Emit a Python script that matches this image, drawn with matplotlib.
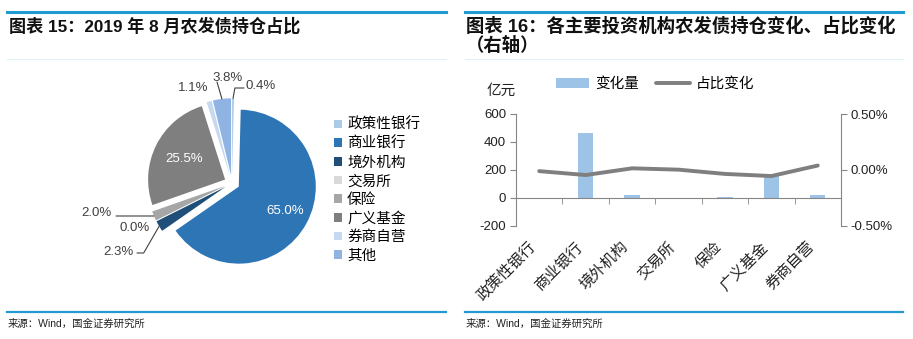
import numpy as np
import matplotlib
matplotlib.use("Agg")
import matplotlib.pyplot as plt
from matplotlib.ticker import FuncFormatter, FixedLocator

plt.rcParams['font.family'] = ['Liberation Sans', 'Noto Sans CJK SC', 'DejaVu Sans']
plt.rcParams['axes.unicode_minus'] = False

# 左图：2019年8月农发债持仓占比
pie_labels = ['政策性银行', '商业银行', '境外机构', '交易所', '保险', '广义基金', '券商自营', '其他']
pie_values = [0.4, 65.0, 2.3, 0.0, 2.0, 25.5, 1.1, 3.8]
pie_colors = ['#a9cbe8', '#2e75b6', '#1f4e79', '#d9d9d9', '#a6a6a6', '#7f7f7f', '#c6d9f0', '#8fb4e3']

# 右图：各主要投资机构农发债持仓变化
categories = ['政策性银行', '商业银行', '境外机构', '交易所', '保险', '广义基金', '券商自营']
change_amt = [-6, 465, 24, 0, 4, 158, 24]               # 亿元
share_change = [-0.01, -0.045, 0.015, 0.003, -0.035, -0.054, 0.04]  # %

W, H = 913, 339
fig = plt.figure(figsize=(W / 100, H / 100), dpi=100)

def fx(px):
    return px / W

def fy(py):
    return 1 - py / H

blue = '#1f9bd1'
# header / footer rules
for x0, x1 in [(7, 446), (465, 903)]:
    fig.add_artist(plt.Line2D([fx(x0), fx(x1)], [fy(12), fy(12)], color=blue, lw=2.2))
    fig.add_artist(plt.Line2D([fx(x0), fx(x1)], [fy(59), fy(59)], color='#e3f1f7', lw=0.8))
    fig.add_artist(plt.Line2D([fx(x0), fx(x1)], [fy(312), fy(312)], color=blue, lw=1.6))
    fig.text(fx(x0 + 1), fy(324), '来源：Wind，国金证券研究所', fontsize=7.5, va='center', color='#222222')

fig.text(fx(9), fy(26), '图表 15：2019 年 8 月农发债持仓占比', fontsize=12.3, fontweight='bold',
         va='center', color='#111111')
fig.text(fx(466), fy(26), '图表 16：各主要投资机构农发债持仓变化、占比变化', fontsize=13.2,
         fontweight='bold', va='center', color='#111111')
fig.text(fx(466), fy(46), '（右轴）', fontsize=13.2, fontweight='bold', va='center', color='#111111')

# ---------------- pie ----------------
cx, cy, r = 232, 183, 77
half = 1.5 * r
axp = fig.add_axes([fx(cx - half), fy(cy + half), 2 * half / W, 2 * half / H])
wedges, _ = axp.pie(pie_values, colors=pie_colors, startangle=90, counterclock=False,
                    explode=[0.1] * len(pie_values), radius=1,
                    wedgeprops=dict(linewidth=0))
axp.set_xlim(-1.5, 1.5)
axp.set_ylim(-1.5, 1.5)
axp.set_aspect('auto')
axp.axis('off')

def to_data(px, py):
    return ((px - cx) / r, (cy - py) / r)

def mid(i, rad):
    w = wedges[i]
    a = np.deg2rad((w.theta1 + w.theta2) / 2)
    return (w.center[0] + rad * np.cos(a), w.center[1] + rad * np.sin(a))

txt = '#404040'
# inside labels
for i, rr in [(1, 0.68), (5, 0.6)]:
    x, y = mid(i, rr)
    axp.text(x, y, f'{pie_values[i]:.1f}%', color='white', fontsize=9.5, ha='center', va='center')

lead = dict(arrowstyle='-', color='#404040', lw=0.8, shrinkA=0, shrinkB=0)
outside = {
    0: ((245, 86), 'left'),
    7: ((228, 78), 'center'),
    6: ((193, 88), 'center'),
    4: ((112, 213), 'right'),
    3: ((150, 228), 'right'),
    2: ((134, 252), 'right'),
}
for i, ((px, py), ha) in outside.items():
    axp.text(*to_data(px, py), f'{pie_values[i]:.1f}%', color=txt, fontsize=9.5, ha=ha, va='center')
axp.annotate('', xy=mid(0, 1.0), xytext=to_data(244, 88), arrowprops=dict(lead, connectionstyle='angle,angleA=0,angleB=80,rad=0'))
axp.annotate('', xy=mid(7, 1.0), xytext=to_data(217, 82), arrowprops=lead)
axp.annotate('', xy=mid(4, 1.0), xytext=to_data(116, 216), arrowprops=lead)
axp.annotate('', xy=mid(2, 1.0), xytext=to_data(137, 253), arrowprops=dict(lead, connectionstyle='angle,angleA=0,angleB=60,rad=0'))

axp.legend(wedges, pie_labels, loc='upper left', bbox_to_anchor=(fx(334), fy(118)),
           bbox_transform=fig.transFigure, frameon=False,
           handlelength=0.55, handleheight=0.55, handletextpad=0.35, labelspacing=0.32,
           borderpad=0, borderaxespad=0, prop={'family': ['Noto Sans CJK SC'], 'size': 10.5})

# ---------------- bar + line ----------------
ax = fig.add_axes([fx(516), fy(226), (841 - 516) / W, (226 - 114) / H])
ax2 = ax.twinx()
xs = np.arange(len(categories))
bars = ax.bar(xs, change_amt, width=0.33, color='#9dc3e6', label='变化量', zorder=2)
line, = ax2.plot(xs, share_change, color='#7f7f7f', lw=2.8, label='占比变化', solid_capstyle='round')

axis_col = '#868686'
ax.set_xlim(-0.5, len(categories) - 0.5)
ax.set_ylim(-200, 600)
ax.set_yticks([-200, 0, 200, 400, 600])
ax2.set_ylim(-0.5, 0.5)
ax2.set_yticks([-0.5, 0, 0.5])
ax2.yaxis.set_major_formatter(FuncFormatter(lambda v, p: f'{v:.2f}%'))

for a in (ax, ax2):
    a.spines['top'].set_visible(False)
    a.patch.set_visible(False)
    for s in ('left', 'right', 'bottom'):
        a.spines[s].set_color(axis_col)
ax.spines['right'].set_visible(False)
ax2.spines['left'].set_visible(False)
ax2.spines['bottom'].set_visible(False)
ax.spines['bottom'].set_position(('data', 0))

ax.tick_params(axis='y', colors=axis_col, labelcolor='#222222', labelsize=9.5, length=4, pad=3)
ax2.tick_params(axis='y', colors=axis_col, labelcolor='#222222', labelsize=9.5, length=4, pad=3)

ax.xaxis.set_major_locator(FixedLocator(xs))
ax.set_xticklabels(categories, rotation=45, ha='right', va='top', fontsize=11,
                   family=['Noto Sans CJK SC'], color='#222222')
ax.tick_params(axis='x', which='major', length=0, pad=29)
ax.xaxis.set_minor_locator(FixedLocator(xs[:-1] + 0.5))
ax.tick_params(axis='x', which='minor', length=4, color=axis_col)

fig.text(fx(501), fy(91), '亿元', fontsize=10.5, ha='center', va='center',
         family=['Noto Sans CJK SC'], color='#222222')
fig.legend([bars, line], ['变化量', '占比变化'], loc='center', bbox_to_anchor=(fx(655), fy(84)),
           ncol=2, frameon=False, handlelength=2.3, handleheight=0.7, columnspacing=1.2,
           handletextpad=0.4, prop={'family': ['Noto Sans CJK SC'], 'size': 10.5})

fig.savefig('out.png', dpi=100)
